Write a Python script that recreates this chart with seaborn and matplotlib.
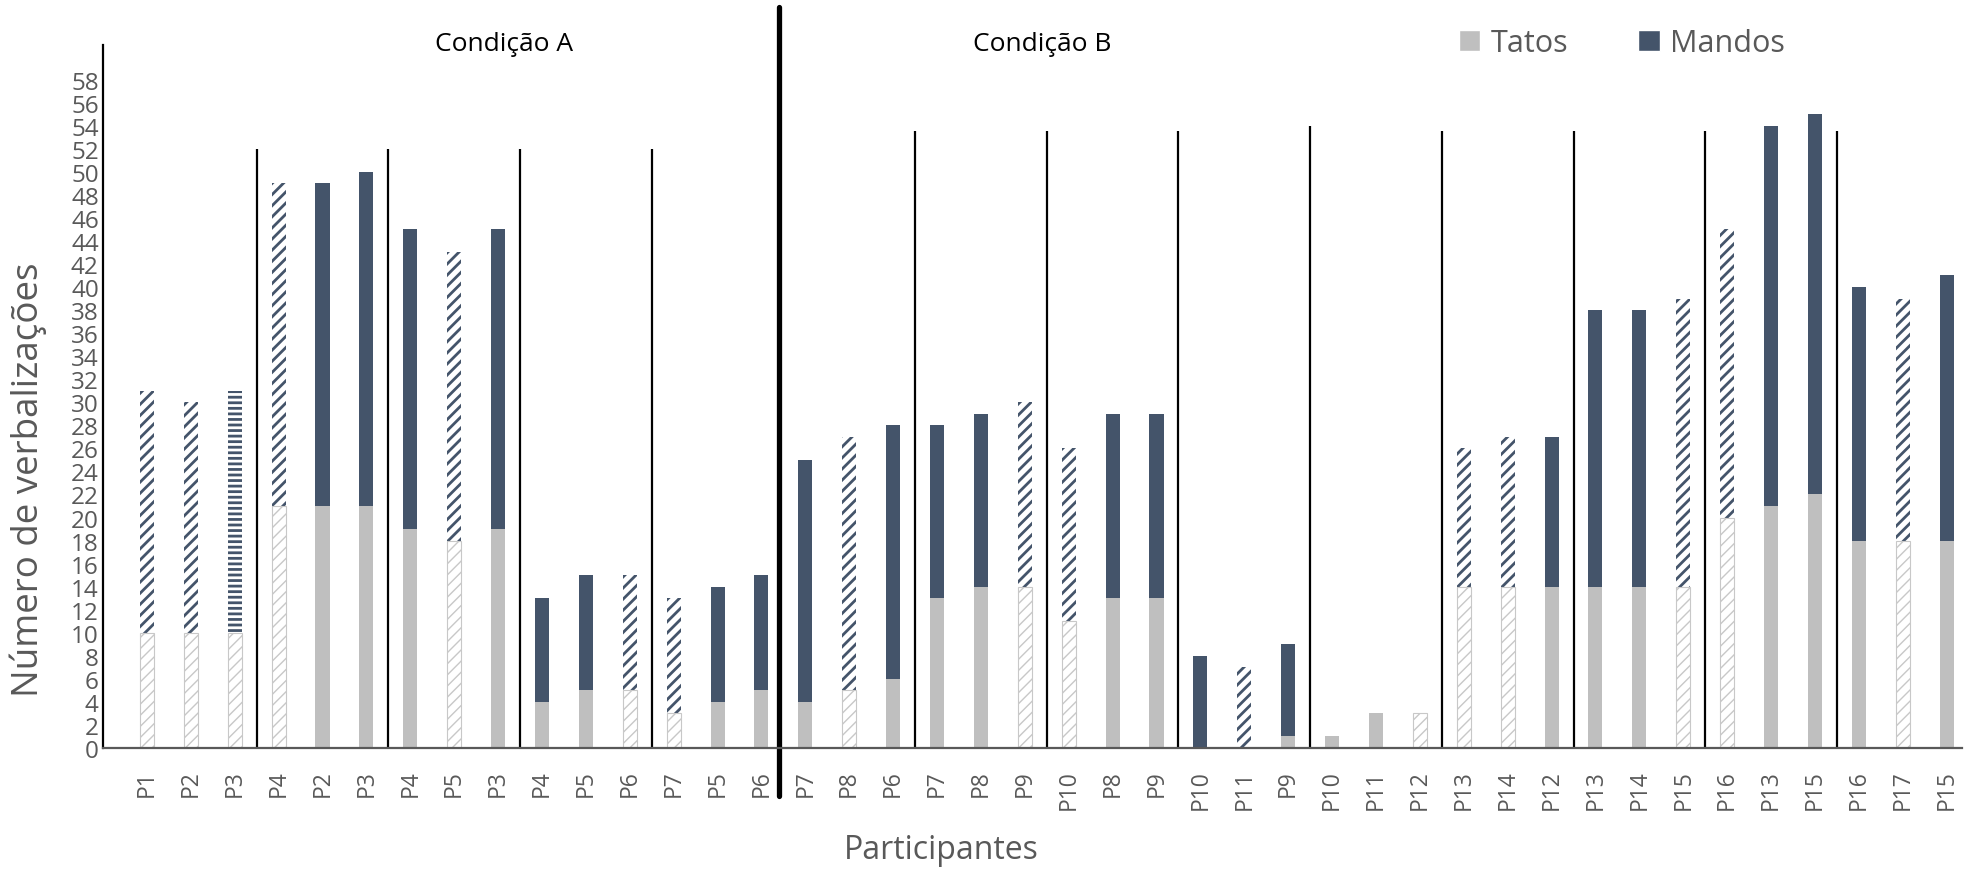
import numpy as np
import pandas as pd
import seaborn as sns
import matplotlib.pyplot as plt
from matplotlib.patches import Patch

# participantes em cada sessao (grupos de 3), condicao A = 15 primeiras barras
participantes = ['P1', 'P2', 'P3', 'P4', 'P2', 'P3', 'P4', 'P5', 'P3',
                 'P4', 'P5', 'P6', 'P7', 'P5', 'P6',
                 'P7', 'P8', 'P6', 'P7', 'P8', 'P9', 'P10', 'P8', 'P9',
                 'P10', 'P11', 'P9', 'P10', 'P11', 'P12', 'P13', 'P14', 'P12',
                 'P13', 'P14', 'P15', 'P16', 'P13', 'P15', 'P16', 'P17', 'P15']
tatos = [10, 10, 10, 21, 21, 21, 19, 18, 19, 4, 5, 5, 3, 4, 5,
         4, 5, 6, 13, 14, 14, 11, 13, 13, 0, 0, 1, 1, 3, 3, 14, 14, 14,
         14, 14, 14, 20, 21, 22, 18, 18, 18]
mandos = [21, 20, 21, 28, 28, 29, 26, 25, 26, 9, 10, 10, 10, 10, 10,
          21, 22, 22, 15, 15, 16, 15, 16, 16, 8, 7, 8, 0, 0, 0, 12, 13, 13,
          24, 24, 25, 25, 33, 33, 22, 21, 23]
# tipo de registro de cada barra
tipo = ['diagonal', 'diagonal', 'horizontal', 'diagonal', 'liso', 'liso',
        'liso', 'diagonal', 'liso', 'liso', 'liso', 'diagonal', 'diagonal',
        'liso', 'liso',
        'liso', 'diagonal', 'liso', 'liso', 'liso', 'diagonal', 'diagonal',
        'liso', 'liso', 'liso', 'diagonal', 'liso', 'liso', 'liso', 'diagonal',
        'diagonal', 'diagonal', 'liso', 'liso', 'liso', 'diagonal', 'diagonal',
        'liso', 'liso', 'liso', 'diagonal', 'liso']
n_condicao_a = 15

AZUL = '#44546A'
CINZA = '#BFBFBF'
TEXTO = '#595959'

sns.set_style('white')
plt.rcParams['font.family'] = ['Open Sans', 'DejaVu Sans']
plt.rcParams['hatch.linewidth'] = 2.0

df = pd.DataFrame({'pos': range(len(participantes)), 'tatos': tatos, 'mandos': mandos})
df['total'] = df['tatos'] + df['mandos']

fig = plt.figure(figsize=(19.68, 8.70), dpi=100)
ax = fig.add_axes([103 / 1968, 121 / 870, (1962 - 103) / 1968, 703 / 870])

n0 = len(ax.patches)
sns.barplot(data=df, x='pos', y='total', color=AZUL, saturation=1, width=0.32,
            errorbar=None, ax=ax)
barras_m = ax.patches[n0:]
n1 = len(ax.patches)
sns.barplot(data=df, x='pos', y='tatos', color=CINZA, saturation=1, width=0.32,
            errorbar=None, ax=ax)
barras_t = ax.patches[n1:]

for bm, bt, t in zip(barras_m, barras_t, tipo):
    bm.set_linewidth(0)
    bt.set_linewidth(0)
    if t == 'liso':
        continue
    bm.set_facecolor('white')
    bm.set_edgecolor(AZUL)
    bm.set_linewidth(0)
    bm.set_hatch('///' if t == 'diagonal' else '---')
    bt.set_facecolor('white')
    bt.set_edgecolor('#C8C8C8')
    bt.set_hatch('///')
    bt.set_linewidth(0.8)
    if hasattr(bt, 'set_hatch_linewidth'):
        bt.set_hatch_linewidth(1.0)

# linhas separando as sessoes
n = len(participantes)
xs = [g - 0.5 for g in range(3, n, 3) if g != n_condicao_a]
tops = [52 if x < n_condicao_a else (54 if x == 26.5 else 53.5) for x in xs]
ax.vlines(xs, 0, tops, color='black', lw=1.6)
ax.plot([n_condicao_a - 0.6] * 2, [-4.2, 64.3], color='black', lw=3.8, clip_on=False)

ax.set_xlim(-1.0, n - 1 + 0.35)
ax.set_ylim(0, 61)
ax.set_yticks(np.arange(0, 59, 2))
ax.set_xticks(range(n))
ax.set_xticklabels(participantes, rotation=90)
ax.tick_params(axis='x', length=0, pad=15, labelsize=16.5, labelcolor=TEXTO)
ax.tick_params(axis='y', length=0, pad=3, labelsize=17.5, labelcolor=TEXTO)

for s in ['top', 'right']:
    ax.spines[s].set_visible(False)
ax.spines['left'].set_color('black')
ax.spines['left'].set_linewidth(1.6)
ax.spines['bottom'].set_color(TEXTO)
ax.spines['bottom'].set_linewidth(1.6)

ax.set_ylabel('Número de verbalizações', fontsize=26.5, color=TEXTO)
ax.yaxis.set_label_coords(-0.0403, 0.383)
ax.yaxis.label.set_va('center')
ax.set_xlabel('Participantes', fontsize=23, color=TEXTO)
ax.xaxis.set_label_coords(0.451, -0.145)
ax.xaxis.label.set_va('center')

fig.text(504 / 1968, 1 - 51 / 870, 'Condição A', ha='center', va='baseline',
         fontsize=19, color='black')
fig.text(1042 / 1968, 1 - 51 / 870, 'Condição B', ha='center', va='baseline',
         fontsize=19, color='black')

ax.legend(handles=[Patch(facecolor=CINZA, label='Tatos'),
                   Patch(facecolor=AZUL, label='Mandos')],
          ncol=2, frameon=False, fontsize=22, labelcolor=TEXTO,
          handlelength=0.7, handleheight=0.7, handletextpad=0.33,
          columnspacing=2.3, borderpad=0, borderaxespad=0,
          loc='center left', bbox_to_anchor=(1459 / 1968, 1 - 44 / 870),
          bbox_transform=fig.transFigure)

fig.savefig('out.png', dpi=100)
